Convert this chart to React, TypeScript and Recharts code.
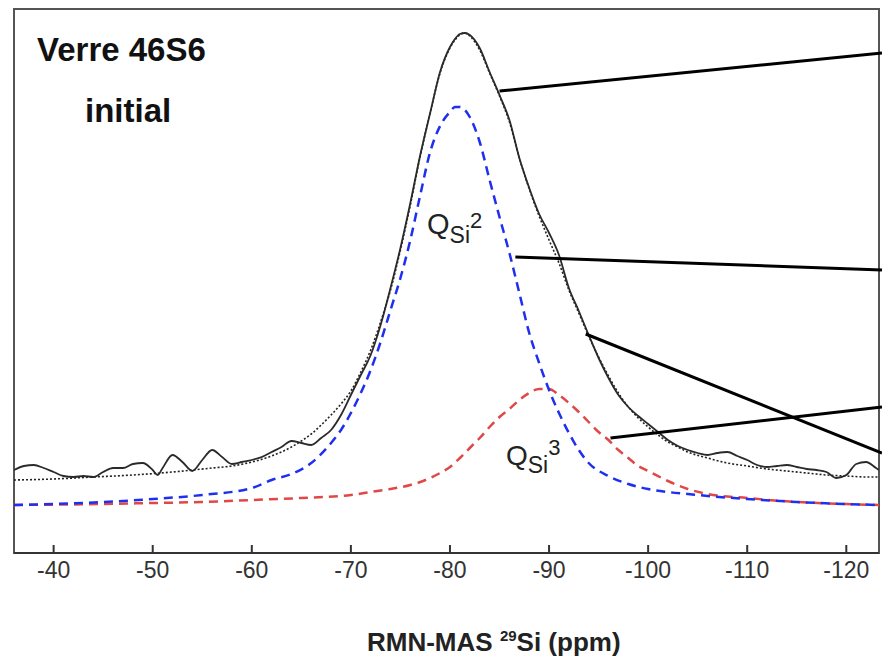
import React from 'react';
import { LineChart, Line, XAxis, YAxis, ReferenceLine, ReferenceArea } from 'recharts';

// x axis: chemical shift (ppm), reversed
const PPM_TICKS = [-40, -50, -60, -70, -80, -90, -100, -110, -120];
const PPM_DOMAIN = [-123.3, -36];
const INT_DOMAIN = [0, 544];

// experimental spectrum (solid)
const EXP_PPM = [-36,-37,-38,-39,-40,-41,-42,-43,-44,-45,-46,-47,-48,-49,-50,-50.5,-51,-52,-53,-54,-55,-56,-57,-58,-59,-60,-61,-62,-63,-64,-65,-66,-67,-68,-69,-70,-71,-72,-73,-74,-75,-76,-77,-78,-79,-80,-80.5,-81,-81.5,-82,-83,-84,-85,-86,-87,-88,-89,-90,-91,-92,-93,-94,-95,-96,-97,-98,-99,-100,-101,-102,-103,-104,-105,-106,-107,-108,-109,-110,-111,-112,-113,-114,-115,-116,-117,-118,-119,-120,-121,-122,-123,-123.3];
const EXP_VAL = [83,87,88,85,81,77,76,77,76,81,85,85,89,90,83,78,85,98,91,82,93,103,96,89,91,93,96,101,106,112,110,108,115,123,138,158,178,198,228,265,305,350,398,440,481,506,514,519,520,518,505,481,458,433,395,365,339,320,298,265,242,218,195,175,158,146,137,129,121,113,107,103,100,98,100,101,97,93,88,86,87,88,86,84,83,81,75,78,89,91,85,83];

// total fit (dotted)
const FIT_PPM = [-36,-40,-44,-48,-52,-56,-58,-60,-62,-64,-65,-66,-67,-68,-69,-70,-71,-72,-73,-74,-75,-76,-77,-78,-79,-80,-81,-81.5,-82,-83,-84,-85,-86,-87,-88,-89,-90,-91,-92,-93,-94,-95,-96,-97,-98,-99,-100,-101,-102,-103,-104,-106,-108,-110,-112,-114,-116,-118,-120,-122,-123.3];
const FIT_VAL = [73,74,76,78,81,85,87,91,97,106,112,119,128,138,149,162,181,203,231,263,303,348,397,440,480,505,518,520,517,503,480,457,431,395,364,337,313,290,263,240,217,196,177,160,146,135,126,118,111,106,101,95,90,87,84,82,80,78,77,76,76];

// Q2 component (blue dashed)
const Q2_PPM = [-36,-40,-45,-50,-55,-60,-62,-64,-66,-68,-69,-70,-71,-72,-73,-74,-75,-76,-77,-78,-79,-80,-80.5,-81,-82,-83,-84,-85,-86,-87,-88,-89,-90,-91,-92,-93,-94,-96,-98,-100,-102,-104,-106,-110,-115,-120,-123.3];
const Q2_VAL = [48,49,51,54,58,65,73,79,90,110,123,140,160,183,211,243,275,313,358,401,427,441,446,446,436,411,373,336,300,260,220,190,163,140,120,103,90,77,69,64,61,59,57,54,51,49,48];

// Q3 component (red dashed)
const Q3_PPM = [-36,-45,-50,-55,-60,-65,-70,-72,-74,-76,-77,-78,-79,-80,-81,-82,-83,-84,-85,-86,-87,-88,-89,-90,-91,-92,-93,-94,-95,-96,-97,-98,-99,-100,-102,-104,-106,-110,-115,-120,-123.3];
const Q3_VAL = [48,49,50,51,53,55,58,61,64,68,71,75,80,86,95,105,115,126,136,144,153,160,164,164,158,150,141,131,121,113,103,95,87,82,72,64,59,55,51,49,48];

// leader lines (start on curve, end beyond right frame)
const LEADER_START_PPM = [-85.0, -86.6, -93.7, -96.2];
const LEADER_START_INT = [462, 296, 219, 115];
const LEADER_END_PPM = [-123.6, -123.6, -123.6, -123.6];
const LEADER_END_INT = [500, 283, 100, 146];

const toRows = (xs: number[], ys: number[]) => xs.map((x, i) => ({ ppm: x, v: ys[i] }));
const expData = toRows(EXP_PPM, EXP_VAL);
const fitData = toRows(FIT_PPM, FIT_VAL);
const q2Data = toRows(Q2_PPM, Q2_VAL);
const q3Data = toRows(Q3_PPM, Q3_VAL);

const FONT = '"Liberation Sans", Arial, sans-serif';

export default function App() {
  return (
    <div style={{ position: 'absolute', left: 0, top: 0, width: 882, height: 659, background: '#fff' }}>
      <LineChart width={882} height={659} margin={{ top: 9, right: 3, left: 14, bottom: 0 }}>
        <XAxis
          xAxisId="b"
          dataKey="ppm"
          type="number"
          domain={PPM_DOMAIN}
          reversed
          allowDataOverflow
          ticks={PPM_TICKS}
          interval={0}
          height={106}
          tickSize={-8}
          tickMargin={17}
          tickLine={{ stroke: '#333', strokeWidth: 2 }}
          axisLine={{ stroke: '#333', strokeWidth: 2 }}
          tick={{ fill: '#333', fontSize: 23, fontFamily: FONT }}
        />
        <YAxis yAxisId="l" type="number" domain={INT_DOMAIN} hide />

        <ReferenceArea
          xAxisId="b"
          yAxisId="l"
          x1={PPM_DOMAIN[1]}
          x2={PPM_DOMAIN[0]}
          y1={INT_DOMAIN[0]}
          y2={INT_DOMAIN[1]}
          ifOverflow="visible"
          fill="#fff"
          fillOpacity={0}
          stroke="#555"
          strokeWidth={2}
          strokeOpacity={1}
        />

        <Line xAxisId="b" yAxisId="l" data={q3Data} dataKey="v" type="monotone" stroke="#e04848" strokeWidth={2.5} strokeDasharray="9 6" dot={false} isAnimationActive={false} />
        <Line xAxisId="b" yAxisId="l" data={q2Data} dataKey="v" type="monotone" stroke="#1f2ff0" strokeWidth={2.5} strokeDasharray="9 6" dot={false} isAnimationActive={false} />
        <Line xAxisId="b" yAxisId="l" data={fitData} dataKey="v" type="monotone" stroke="#222" strokeWidth={1.6} strokeDasharray="2 2" dot={false} isAnimationActive={false} />
        <Line xAxisId="b" yAxisId="l" data={expData} dataKey="v" type="monotone" stroke="#2a2a2a" strokeWidth={1.8} dot={false} isAnimationActive={false} />

        {LEADER_START_PPM.map((x, i) => (
          <ReferenceLine
            key={i}
            xAxisId="b"
            yAxisId="l"
            ifOverflow="visible"
            segment={[{ x, y: LEADER_START_INT[i] }, { x: LEADER_END_PPM[i], y: LEADER_END_INT[i] }]}
            stroke="#000"
            strokeWidth={3}
          />
        ))}
      </LineChart>

      <svg width={882} height={659} style={{ position: 'absolute', left: 0, top: 0, pointerEvents: 'none' }}>
        <text x={37} y={61} fontFamily={FONT} fontWeight="bold" fontSize={33} fill="#111">Verre 46S6</text>
        <text x={85} y={122} fontFamily={FONT} fontWeight="bold" fontSize={33} fill="#111">initial</text>

        <text fontFamily={FONT} fill="#222">
          <tspan x={427} y={234} fontSize={29}>Q</tspan>
          <tspan y={243} fontSize={23}>Si</tspan>
          <tspan y={228} fontSize={22}>2</tspan>
        </text>
        <text fontFamily={FONT} fill="#222">
          <tspan x={506} y={465} fontSize={28}>Q</tspan>
          <tspan y={473} fontSize={23}>Si</tspan>
          <tspan y={455} fontSize={22}>3</tspan>
        </text>

        <text x={367} y={651} fontFamily={FONT} fontWeight="bold" fontSize={26} fill="#222">
          RMN-MAS <tspan fontSize={15} dy={-10}>29</tspan><tspan dy={10}>Si (ppm)</tspan>
        </text>
      </svg>
    </div>
  );
}
